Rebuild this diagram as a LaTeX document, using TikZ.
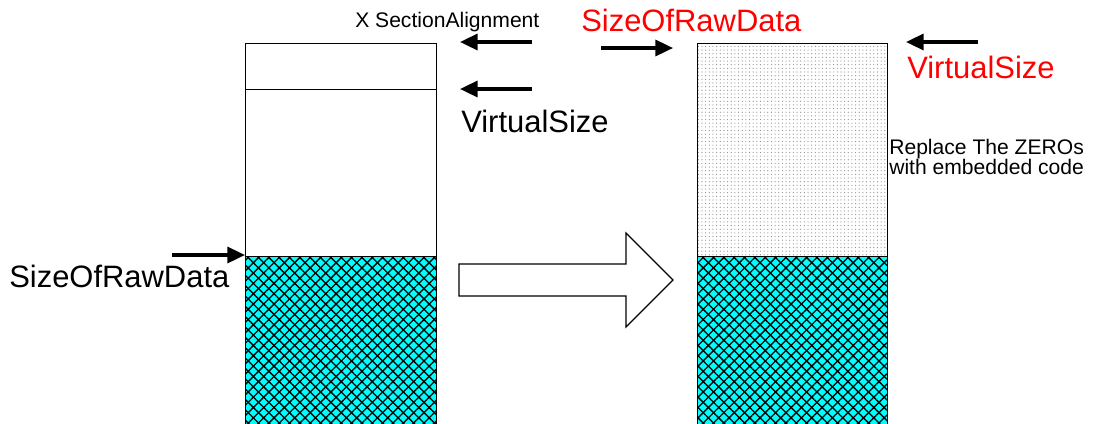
\documentclass[tikz,border=0pt]{standalone}
\usepackage{fontspec}
\setmainfont{Liberation Sans}
\usepackage{xcolor}
\usetikzlibrary{arrows.meta, patterns.meta}
\definecolor{rawcyan}{RGB}{0, 255, 255}
\definecolor{labelred}{RGB}{255, 0, 0}

\tikzset{
  pointer/.style={line width=2.3pt, -{Triangle[length=0.44cm, width=0.4cm]}},
  biglabel/.style={font=\fontsize{22}{26}\selectfont, inner sep=0pt, anchor=base west},
  smalllabel/.style={font=\fontsize{15}{14.2}\selectfont, inner sep=0pt, anchor=base west},
  rawdata/.style={fill=rawcyan,
    postaction={pattern={Lines[angle=45, distance=5.2pt, line width=0.95pt]}},
    postaction={pattern={Lines[angle=-45, distance=5.2pt, line width=0.95pt]}}},
  zerofill/.style={pattern={Dots[distance=2.6pt, radius=0.42pt]}, pattern color=gray!90}
}

\begin{document}
\begin{tikzpicture}[x=0.025cm, y=-0.025cm]
\useasboundingbox (0,0) rectangle (1095,423);
\clip (0,0) rectangle (1095,423);
\fill[white] (0,0) rectangle (1095,423);

% section before: header, free space, raw data
\draw[rawdata] (245,256) rectangle (436,426);
\draw (245,43) rectangle (436,426);
\draw (245,89) -- (436,89);
\draw (245,256) -- (436,256);
\coordinate (leftRaw) at (245,255);
\coordinate (leftTop) at (460,42);
\coordinate (leftVirt) at (460,89);

% section after: zeros replaced, raw data
\fill[zerofill] (697,43) rectangle (887,256);
\draw[rawdata] (697,256) rectangle (887,426);
\draw (697,43) rectangle (887,426);
\draw (697,256) -- (887,256);
\coordinate (rightRawTip) at (673,48);
\coordinate (rightVirtTip) at (906,42);

% labels
\node[smalllabel] (align) at (355,27) {X SectionAlignment};
\node[biglabel] (vsizeL) at (461,132) {VirtualSize};
\node[biglabel] (rawL) at (9,287) {SizeOfRawData};
\node[biglabel, text=labelred] (rawR) at (581,31) {SizeOfRawData};
\node[biglabel, text=labelred] (vsizeR) at (907,78) {VirtualSize};
\node[smalllabel, align=left, anchor=north west] (replace) at (889,139)
  {Replace The ZEROs\\with embedded code};

\coordinate (alignTail) at (532,42);
\coordinate (virtTail) at (532,89);
\coordinate (rawTailL) at (172,255);
\coordinate (rawTailR) at (601,48);
\coordinate (virtTailR) at (978,42);
\draw[pointer] (alignTail) -- (leftTop);
\draw[pointer] (virtTail) -- (leftVirt);
\draw[pointer] (rawTailL) -- (leftRaw);
\draw[pointer] (rawTailR) -- (rightRawTip);
\draw[pointer] (virtTailR) -- (rightVirtTip);

% block arrow between the two sections
\draw[line width=0.8pt, fill=white] (459,264) -- (626,264) -- (626,233) -- (673,280)
  -- (626,327) -- (626,296) -- (459,296) -- cycle;
\end{tikzpicture}
\end{document}
